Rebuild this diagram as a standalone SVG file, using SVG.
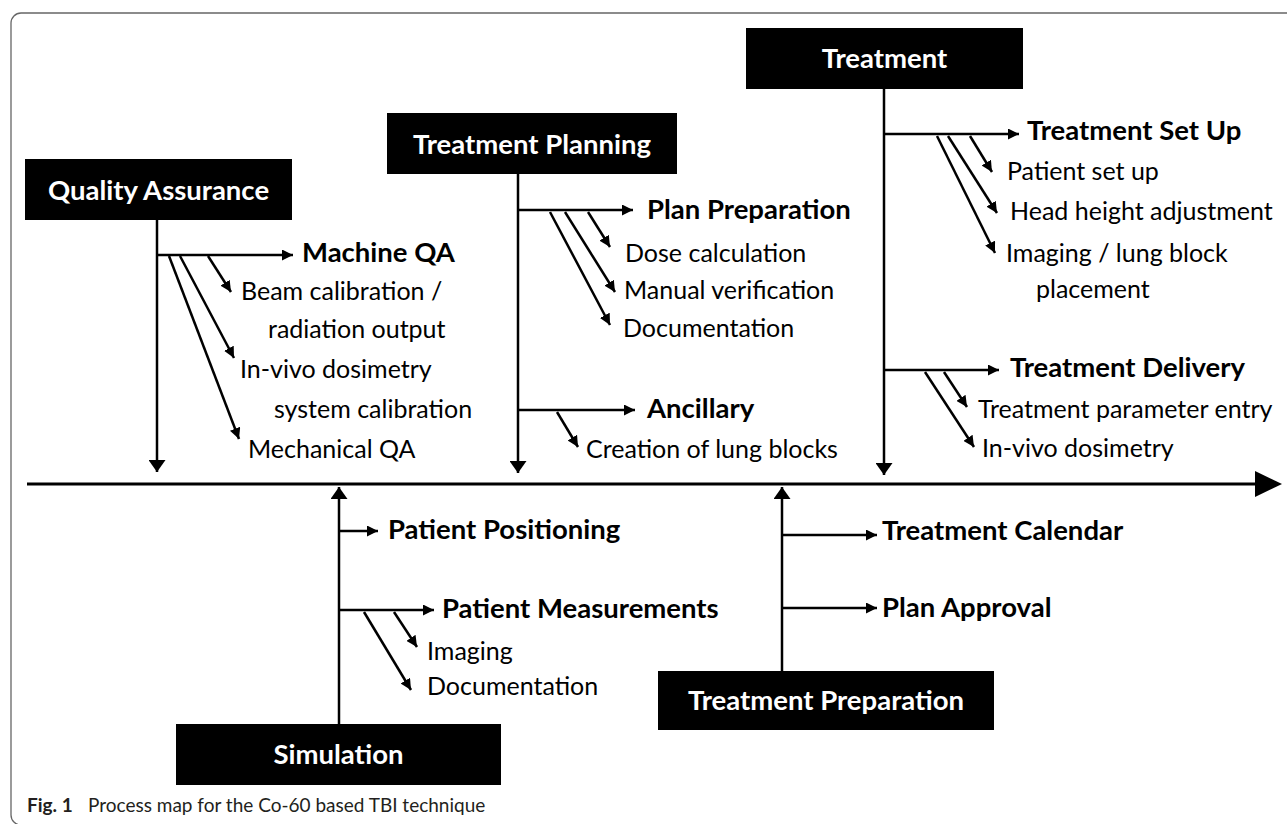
<svg xmlns="http://www.w3.org/2000/svg" width="1287" height="824" viewBox="0 0 1287 824">
<style>
.box{fill:#000;}
.bt{font-family:Lato,"Liberation Sans",sans-serif;font-weight:bold;font-size:27.5px;fill:#fff;text-anchor:middle;}
.lb{font-family:Lato,"Liberation Sans",sans-serif;font-weight:bold;font-size:27.5px;fill:#000;}
.lr{font-family:Lato,"Liberation Sans",sans-serif;font-size:25px;fill:#000;}
.ln{stroke:#000;stroke-width:2.5;fill:none;}
.cap{font-family:Lato,"Liberation Sans",sans-serif;font-size:19px;fill:#231f20;}
</style>
<defs>
<marker id="ah" markerUnits="userSpaceOnUse" markerWidth="11" markerHeight="11" refX="11" refY="5.5" orient="auto" viewBox="0 0 11 11"><path d="M0,0 L11,5.5 L0,11 z" fill="#000"/></marker>
<marker id="ahv" markerUnits="userSpaceOnUse" markerWidth="12" markerHeight="17" refX="12" refY="8.5" orient="auto" viewBox="0 0 12 17"><path d="M0,0 L12,8.5 L0,17 z" fill="#000"/></marker>
</defs>
<rect x="11" y="13" width="1300" height="812" rx="10" ry="10" fill="none" stroke="#666" stroke-width="1.3"/>

<g id="connectors">
<line x1="27" y1="484" x2="1258" y2="484" stroke="#000" stroke-width="3"/>
<polygon points="1255,471 1282,484 1255,497" fill="#000"/>
<line class="ln" x1="157" y1="220" x2="157" y2="472" marker-end="url(#ahv)"/>
<line class="ln" x1="157" y1="255" x2="293" y2="255" marker-end="url(#ah)"/>
<line class="ln" x1="208" y1="256" x2="231" y2="292" marker-end="url(#ah)"/>
<line class="ln" x1="180" y1="256" x2="234" y2="358" marker-end="url(#ah)"/>
<line class="ln" x1="169" y1="256" x2="239" y2="439" marker-end="url(#ah)"/>
<line class="ln" x1="518" y1="174" x2="518" y2="473" marker-end="url(#ahv)"/>
<line class="ln" x1="518" y1="210" x2="633" y2="210" marker-end="url(#ah)"/>
<line class="ln" x1="588" y1="212" x2="610" y2="247" marker-end="url(#ah)"/>
<line class="ln" x1="565" y1="212" x2="615" y2="292" marker-end="url(#ah)"/>
<line class="ln" x1="550" y1="212" x2="610" y2="325" marker-end="url(#ah)"/>
<line class="ln" x1="518" y1="410" x2="635" y2="410" marker-end="url(#ah)"/>
<line class="ln" x1="557" y1="412" x2="578" y2="447" marker-end="url(#ah)"/>
<line class="ln" x1="884" y1="89" x2="884" y2="475" marker-end="url(#ahv)"/>
<line class="ln" x1="884" y1="134" x2="1019" y2="134" marker-end="url(#ah)"/>
<line class="ln" x1="970" y1="136" x2="992" y2="172" marker-end="url(#ah)"/>
<line class="ln" x1="948" y1="136" x2="997" y2="213" marker-end="url(#ah)"/>
<line class="ln" x1="937" y1="136" x2="995" y2="253" marker-end="url(#ah)"/>
<line class="ln" x1="884" y1="370" x2="999" y2="370" marker-end="url(#ah)"/>
<line class="ln" x1="944" y1="372" x2="967" y2="407" marker-end="url(#ah)"/>
<line class="ln" x1="925" y1="372" x2="974" y2="447" marker-end="url(#ah)"/>
<line class="ln" x1="339" y1="724" x2="339" y2="487" marker-end="url(#ahv)"/>
<line class="ln" x1="339" y1="531" x2="378" y2="531" marker-end="url(#ah)"/>
<line class="ln" x1="339" y1="610" x2="434" y2="610" marker-end="url(#ah)"/>
<line class="ln" x1="394" y1="612" x2="417" y2="647" marker-end="url(#ah)"/>
<line class="ln" x1="364" y1="612" x2="411" y2="690" marker-end="url(#ah)"/>
<line class="ln" x1="782" y1="671" x2="782" y2="487" marker-end="url(#ahv)"/>
<line class="ln" x1="782" y1="535" x2="877" y2="535" marker-end="url(#ah)"/>
<line class="ln" x1="782" y1="608" x2="877" y2="608" marker-end="url(#ah)"/>
</g>

<g id="qa">
<rect class="box" x="25" y="159" width="267" height="61"/>
<text class="bt" x="158.5" y="200">Quality Assurance</text>
<text class="lb" x="302" y="262">Machine QA</text>
<text class="lr" x="241" y="300">Beam calibration /</text>
<text class="lr" x="268" y="338">radiation output</text>
<text class="lr" x="240" y="378">In-vivo dosimetry</text>
<text class="lr" x="274" y="418">system calibration</text>
<text class="lr" x="248" y="458">Mechanical QA</text>
</g>

<g id="planning">
<rect class="box" x="387" y="113" width="290" height="61"/>
<text class="bt" x="532" y="154">Treatment Planning</text>
<text class="lb" x="647" y="219">Plan Preparation</text>
<text class="lr" x="625" y="262">Dose calculation</text>
<text class="lr" x="624" y="299">Manual verification</text>
<text class="lr" x="623" y="337">Documentation</text>
<text class="lb" x="647" y="418">Ancillary</text>
<text class="lr" x="586" y="458">Creation of lung blocks</text>
</g>

<g id="treatment">
<rect class="box" x="746" y="28" width="277" height="61"/>
<text class="bt" x="884.5" y="68">Treatment</text>
<text class="lb" x="1027" y="140">Treatment Set Up</text>
<text class="lr" x="1007" y="180">Patient set up</text>
<text class="lr" x="1010" y="220">Head height adjustment</text>
<text class="lr" x="1006" y="262">Imaging / lung block</text>
<text class="lr" x="1036" y="298">placement</text>
<text class="lb" x="1010" y="377">Treatment Delivery</text>
<text class="lr" x="978" y="418">Treatment parameter entry</text>
<text class="lr" x="982" y="457">In-vivo dosimetry</text>
</g>

<g id="simulation">
<rect class="box" x="176" y="724" width="325" height="61"/>
<text class="bt" x="338.5" y="764">Simulation</text>
<text class="lb" x="388" y="539">Patient Positioning</text>
<text class="lb" x="442" y="618">Patient Measurements</text>
<text class="lr" x="427" y="660">Imaging</text>
<text class="lr" x="427" y="695">Documentation</text>
</g>

<g id="preparation">
<rect class="box" x="658" y="671" width="336" height="59"/>
<text class="bt" x="826" y="710">Treatment Preparation</text>
<text class="lb" x="882" y="540">Treatment Calendar</text>
<text class="lb" x="882" y="617">Plan Approval</text>
</g>

<g id="caption">
<text class="cap" x="27" y="812"><tspan font-weight="bold">Fig. 1</tspan><tspan x="88">Process map for the Co-60 based TBI technique</tspan></text>
</g>
</svg>
